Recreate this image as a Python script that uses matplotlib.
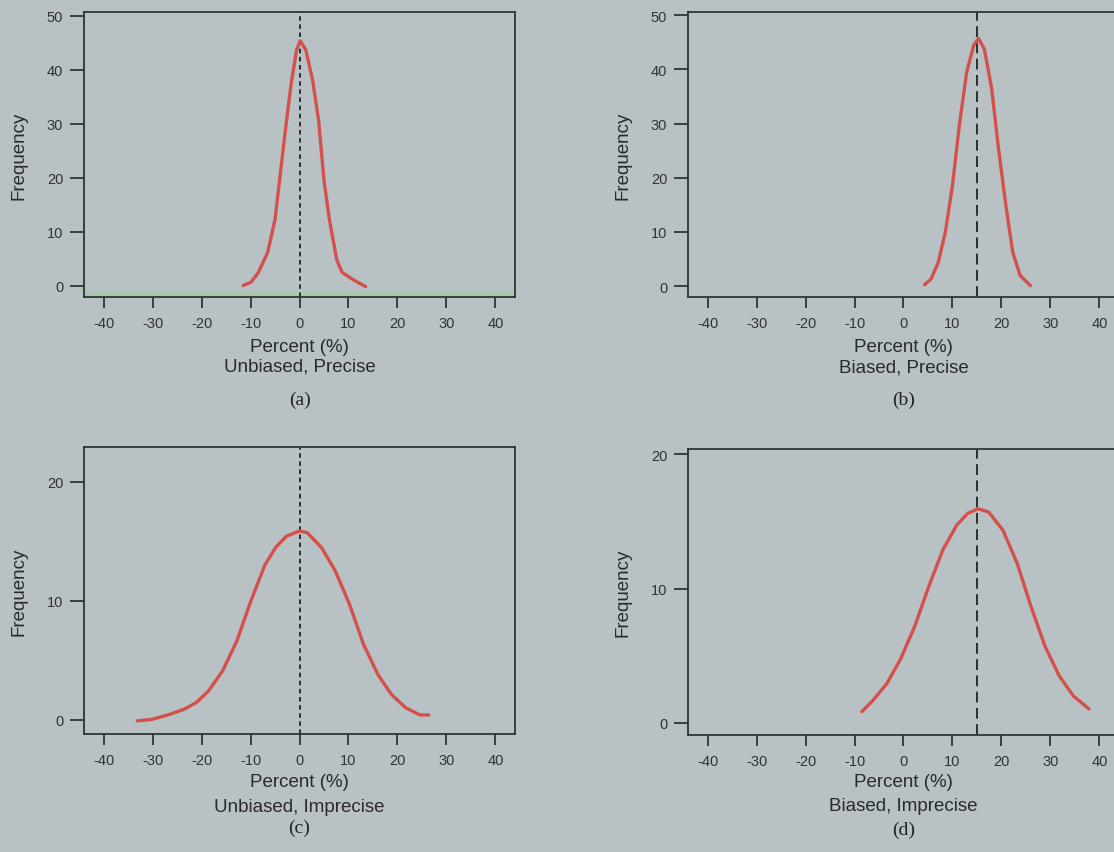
import matplotlib.pyplot as plt

xa = [-11.5, -9.9, -8.4, -6.5, -5.0, -3.9, -2.8, -1.7, -0.6, 0.15, 1.3, 2.7, 3.9, 5.0, 6.1, 7.6, 8.7, 10.9, 13.5]
ya = [0.1, 0.7, 2.5, 6.2, 12.3, 20.9, 29.5, 37.5, 43.7, 45.4, 43.7, 38.0, 30.7, 19.6, 12.3, 4.9, 2.5, 1.2, -0.1]

xb = [4.3, 5.65, 7.1, 8.55, 10.0, 11.4, 12.9, 14.35, 15.3, 16.5, 18.0, 19.4, 20.9, 22.3, 23.8, 25.9]
yb = [0.25, 1.35, 4.4, 10.0, 18.6, 29.7, 39.5, 44.5, 45.7, 43.8, 36.5, 25.4, 14.9, 6.3, 2.0, 0.1]

xc = [-33.1, -30.1, -26.5, -23.6, -21.1, -18.6, -15.7, -12.8, -9.9, -7.05, -4.9, -2.7, 0.0, 1.6, 4.5, 7.3, 10.2, 13.1, 16.0, 18.8, 21.7, 24.6, 26.4]
yc = [-0.1, 0.03, 0.45, 0.87, 1.43, 2.4, 4.1, 6.6, 10.0, 13.0, 14.45, 15.4, 15.85, 15.7, 14.45, 12.5, 9.7, 6.3, 3.8, 2.1, 1.0, 0.4, 0.4]

xd = [-8.5, -6.3, -3.45, -0.6, 2.3, 5.2, 8.05, 10.9, 13.1, 15.25, 17.4, 20.3, 23.2, 26.0, 28.9, 31.8, 34.7, 37.9]
yd = [0.84, 1.65, 2.9, 4.75, 7.2, 10.2, 12.9, 14.75, 15.6, 15.95, 15.7, 14.35, 11.9, 8.7, 5.7, 3.5, 2.0, 1.04]

xticks = [-40, -30, -20, -10, 0, 10, 20, 30, 40]
titles = ['Unbiased, Precise', 'Biased, Precise', 'Unbiased, Imprecise', 'Biased, Imprecise']
tags = ['(a)', '(b)', '(c)', '(d)']
centers = [0, 15, 0, 15]

bg = '#b8c2c5'
red = '#d4504a'
dark = '#2e3532'

plt.rcParams['font.family'] = ['Liberation Sans', 'DejaVu Sans']
plt.rcParams['axes.unicode_minus'] = False

fig = plt.figure(figsize=(11.14, 8.53), dpi=100, facecolor=bg)

W, H = 1114, 853
def box(l, t, r, b):
    return [l / W, 1 - b / H, (r - l) / W, (b - t) / H]

axs = [fig.add_axes(box(84, 13, 515, 298)),
       fig.add_axes(box(688, 13, 1119, 298)),
       fig.add_axes(box(84, 448, 515, 735)),
       fig.add_axes(box(688, 450, 1119, 736))]

xs = [xa, xb, xc, xd]
ys = [ya, yb, yc, yd]
ylims = [(-2.04, 50.74), (-2.0, 50.6), (-1.2, 22.9), (-0.9, 20.4)]
yticks = [[0, 10, 20, 30, 40, 50], [0, 10, 20, 30, 40, 50], [0, 10, 20], [0, 10, 20]]
dashes = [(2.5, 2), (6, 3), (2.5, 2), (6, 3)]
lab_y = [(-0.172, -0.242, -0.36), (-0.172, -0.245, -0.36),
         (-0.164, -0.251, -0.326), (-0.164, -0.248, -0.33)]

for i, ax in enumerate(axs):
    ax.set_facecolor(bg)
    ax.plot(xs[i], ys[i], color=red, lw=2.4, solid_capstyle='round',
            solid_joinstyle='round', zorder=3)
    ax.axvline(centers[i], color='#222222', lw=1.3, dashes=dashes[i], zorder=2)
    ax.set_xlim(-44, 44)
    ax.set_ylim(*ylims[i])
    ax.set_xticks(xticks)
    ax.set_yticks(yticks[i])
    ax.tick_params(direction='out', width=1.3, color=dark,
                   labelsize=10.5, labelcolor='#333333')
    ax.tick_params(axis='x', length=8, pad=6)
    ax.tick_params(axis='y', length=10, pad=5)
    for s in ax.spines.values():
        s.set_color(dark)
        s.set_linewidth(1.3)
    ax.set_ylabel('Frequency', fontsize=13.5, color='#2a2a2a')
    ax.yaxis.set_label_coords(-0.132, 0.5)
    ax.text(0.5, lab_y[i][0], 'Percent (%)', transform=ax.transAxes,
            ha='center', va='center', fontsize=13.5, color='#2a2a2a')
    ax.text(0.5, lab_y[i][1], titles[i], transform=ax.transAxes,
            ha='center', va='center', fontsize=13.5, color='#2a2a2a')
    ax.text(0.5, lab_y[i][2], tags[i], transform=ax.transAxes,
            ha='center', va='center', fontsize=14, color='#222222',
            family='Liberation Serif')

# faint green edge along the bottom of panel (a), as in the scan
axs[0].axhspan(-2.04, -1.1, color='#a9c6b0', lw=0, zorder=1)

fig.savefig('out.png', dpi=100, facecolor=bg)
